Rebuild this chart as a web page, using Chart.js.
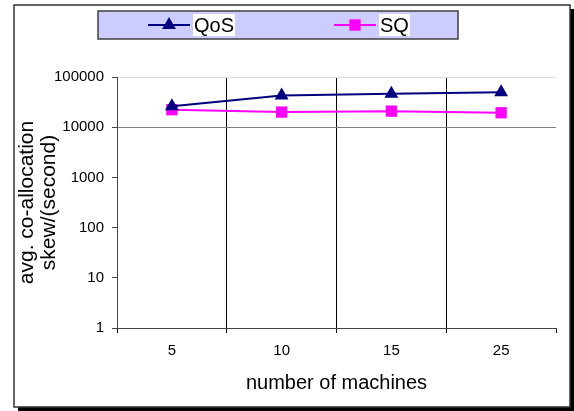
<!DOCTYPE html>
<html>
<head>
<meta charset="utf-8">
<script src="https://cdn.jsdelivr.net/npm/chart.js"></script>
<style>
  html, body { margin: 0; padding: 0; background: #fff; }
  #wrap { width: 574px; height: 411px; position: relative; }
</style>
</head>
<body>
<div id="wrap"><canvas id="skewChart"></canvas></div>
<script>
// data
const machines = ['5', '10', '15', '25'];
const qosSkew = [26000, 43000, 46500, 49500];
const sqSkew = [22300, 20000, 20900, 19400];
const yTicks = [1, 10, 100, 1000, 10000, 100000];

const FONT = 'Arial, "Liberation Sans", sans-serif';

function drawMarker(ctx, style, x, y, r, color) {
    ctx.save();
    ctx.fillStyle = color;
    ctx.beginPath();
    if (style === 'triangle') {
        ctx.moveTo(x, y - r);
        ctx.lineTo(x + r * 0.866, y + r * 0.5);
        ctx.lineTo(x - r * 0.866, y + r * 0.5);
        ctx.closePath();
    } else {
        const s = r * Math.SQRT1_2;
        ctx.rect(x - s, y - s, 2 * s, 2 * s);
    }
    ctx.fill();
    ctx.restore();
}

// outer frame with shadow, Excel style
const framePlugin = {
    id: 'frame',
    beforeDraw(chart) {
        const ctx = chart.ctx;
        ctx.save();
        ctx.fillStyle = '#fff';
        ctx.fillRect(0, 0, chart.width, chart.height);
        ctx.fillStyle = '#000';
        ctx.fillRect(18, 9, 556, 402);
        ctx.fillStyle = '#fff';
        ctx.fillRect(14, 5, 556, 402);
        ctx.strokeStyle = '#333';
        ctx.lineWidth = 1.5;
        ctx.strokeRect(14, 5, 556, 402);
        ctx.restore();
    }
};

// legend box at the top
const legendBox = {
    id: 'legendBox',
    afterDraw(chart) {
        const ctx = chart.ctx;
        const box = { x: 98, y: 11, w: 360, h: 28 };
        ctx.save();
        ctx.fillStyle = '#ccccff';
        ctx.fillRect(box.x, box.y, box.w, box.h);
        ctx.strokeStyle = '#404040';
        ctx.lineWidth = 1.5;
        ctx.strokeRect(box.x, box.y, box.w, box.h);
        const starts = [148, 334];
        const cy = box.y + box.h / 2;
        ctx.font = '20px ' + FONT;
        ctx.textBaseline = 'middle';
        chart.data.datasets.forEach((ds, i) => {
            const x0 = starts[i];
            ctx.strokeStyle = ds.borderColor;
            ctx.lineWidth = 2;
            ctx.beginPath();
            ctx.moveTo(x0, cy);
            ctx.lineTo(x0 + 42, cy);
            ctx.stroke();
            drawMarker(ctx, ds.pointStyle, x0 + 21, cy, ds.pointRadius, ds.backgroundColor);
            const tw = ctx.measureText(ds.label).width;
            ctx.fillStyle = '#fff';
            ctx.fillRect(x0 + 45, box.y + 3, tw + 2, box.h - 6);
            ctx.fillStyle = '#000';
            ctx.fillText(ds.label, x0 + 46, cy + 1);
        });
        ctx.restore();
    }
};

const ctx = document.getElementById('skewChart').getContext('2d');
new Chart(ctx, {
    type: 'line',
    data: {
        labels: machines,
        datasets: [
            {
                label: 'QoS',
                data: qosSkew,
                borderColor: '#000080',
                backgroundColor: '#000080',
                borderWidth: 2,
                pointStyle: 'triangle',
                pointRadius: 8,
                pointBorderWidth: 0,
                tension: 0
            },
            {
                label: 'SQ',
                data: sqSkew,
                borderColor: '#ff00ff',
                backgroundColor: '#ff00ff',
                borderWidth: 2,
                pointStyle: 'rect',
                pointRadius: 8,
                pointBorderWidth: 0,
                tension: 0
            }
        ]
    },
    options: {
        responsive: true,
        maintainAspectRatio: false,
        animation: false,
        layout: { padding: { top: 77, right: 18, left: 0, bottom: 0 } },
        plugins: {
            legend: { display: false },
            tooltip: { enabled: false }
        },
        scales: {
            x: {
                type: 'category',
                offset: true,
                afterFit: s => { s.height = 83; },
                grid: {
                    offset: true,
                    color: c => (c.index >= 1 && c.index <= 3) ? '#000' : 'rgba(0,0,0,0)',
                    tickColor: '#000',
                    tickLength: 5,
                    lineWidth: 1
                },
                border: { color: '#444', width: 1 },
                ticks: { color: '#000', font: { family: FONT, size: 15 }, padding: 9 },
                title: {
                    display: true,
                    text: 'number of machines',
                    color: '#000',
                    font: { family: FONT, size: 20, lineHeight: 1.15 },
                    padding: { top: 0, bottom: 16 }
                }
            },
            y: {
                type: 'logarithmic',
                min: 1,
                max: 100000,
                afterFit: s => { s.width = 117; },
                afterBuildTicks: s => { s.ticks = yTicks.map(v => ({ value: v })); },
                grid: {
                    color: c => c.tick && c.tick.value === 10000 ? '#808080'
                        : (c.tick && c.tick.value === 100000 ? '#e0e0e0' : 'rgba(0,0,0,0)'),
                    tickColor: '#444',
                    tickLength: 5,
                    lineWidth: 1
                },
                border: { color: '#444', width: 1 },
                ticks: {
                    color: '#000',
                    font: { family: FONT, size: 15 },
                    padding: 8,
                    callback: v => String(v)
                },
                title: {
                    display: true,
                    text: ['avg. co-allocation', 'skew/(second)'],
                    color: '#000',
                    font: { family: FONT, size: 21, lineHeight: 1.05 },
                    padding: { top: 16, bottom: 0 }
                }
            }
        }
    },
    plugins: [framePlugin, legendBox]
});
</script>
</body>
</html>
